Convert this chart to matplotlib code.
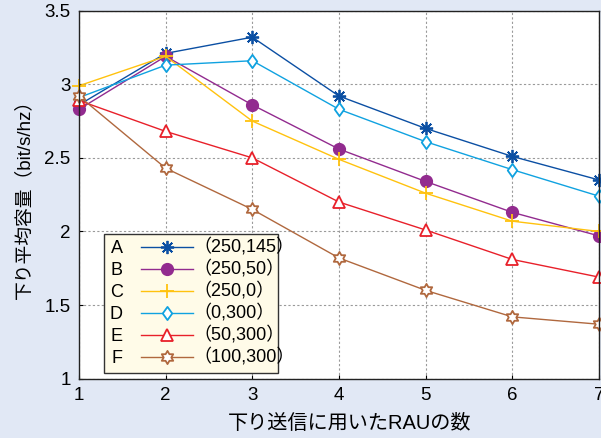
import numpy as np
import matplotlib
matplotlib.use('Agg')
import matplotlib.pyplot as plt
from matplotlib.legend_handler import HandlerLine2D
from matplotlib.path import Path
from matplotlib.text import Text

plt.rcParams['font.family'] = ['Liberation Sans', 'Noto Sans CJK JP']

# Data
rau = [1, 2, 3, 4, 5, 6, 7]
series_names = ['A', 'B', 'C', 'D', 'E', 'F']
series_params = ['（250,145）', '（250,50）', '（250,0）', '（0,300）', '（50,300）', '（100,300）']
cap_a = [2.86, 3.21, 3.32, 2.92, 2.70, 2.51, 2.35]
cap_b = [2.83, 3.19, 2.86, 2.56, 2.34, 2.13, 1.97]
cap_c = [2.99, 3.19, 2.75, 2.49, 2.26, 2.07, 2.00]
cap_d = [2.91, 3.13, 3.16, 2.83, 2.61, 2.42, 2.24]
cap_e = [2.89, 2.68, 2.50, 2.20, 2.01, 1.81, 1.69]
cap_f = [2.92, 2.43, 2.15, 1.82, 1.60, 1.42, 1.37]
series_values = [cap_a, cap_b, cap_c, cap_d, cap_e, cap_f]

# Custom markers: star of David and a tall diamond (closed paths)
ang = np.deg2rad(np.arange(12) * 30 + 90)
rad = np.where(np.arange(12) % 2 == 0, 1.0, 1 / np.sqrt(3))
hex_pts = np.column_stack([rad * np.cos(ang), rad * np.sin(ang)])
hexagram = Path(np.vstack([hex_pts, hex_pts[:1]]), closed=True)
tall_diamond = Path([(0, 1), (0.72, 0), (0, -1), (-0.72, 0), (0, 1)], closed=True)

colors = ['#0b4fa3', '#922b8f', '#ffc20e', '#10a2e0', '#e8202a', '#b0683e']
markers = [(8, 2, 0), 'o', '+', tall_diamond, '^', hexagram]
msizes = [9.5, 8.2, 10.5, 9.5, 9, 9.5]
faces = ['#0b4fa3', '#922b8f', 'none', 'white', 'white', 'white']


class LineWithText(HandlerLine2D):
    """Legend handle: short line + marker, followed by the parameter text."""
    def __init__(self, text, **kw):
        super().__init__(**kw)
        self.text = text

    def create_artists(self, legend, orig_handle, xdescent, ydescent,
                       width, height, fontsize, trans):
        line_w = 2.9 * fontsize
        arts = super().create_artists(legend, orig_handle, xdescent, ydescent,
                                      line_w, height, fontsize, trans)
        t = Text(line_w - xdescent, (height - ydescent) / 2,
                 self.text, fontsize=fontsize, va='center', ha='left',
                 transform=trans)
        return list(arts) + [t]


fig = plt.figure(figsize=(6.01, 4.38), dpi=100)
fig.patch.set_facecolor('#e1e8f5')
ax = fig.add_axes([0.1314, 0.1354, 0.8653, 0.8402])

lines = []
for vals, c, m, ms, fc in zip(series_values, colors, markers, msizes, faces):
    ln, = ax.plot(rau, vals, color=c, lw=1.0, marker=m, markersize=ms,
                  markerfacecolor=fc, markeredgecolor=c, markeredgewidth=1.3,
                  clip_on=False)
    lines.append(ln)

ax.set_xlim(1, 7)
ax.set_ylim(1, 3.5)
ax.set_xticks(rau)
ax.set_xticklabels([str(v) for v in rau])
ax.set_yticks([1, 1.5, 2, 2.5, 3, 3.5])
ax.set_yticklabels(['1', '1.5', '2', '2.5', '3', '3.5'])
ax.tick_params(direction='in', length=3, labelsize=13.5, pad=6)
ax.grid(True, color='#9a9a9a', linestyle=(0, (2, 2)), lw=0.8)
ax.set_axisbelow(True)
for s in ax.spines.values():
    s.set_linewidth(1.0)
    s.set_color('#222222')

ax.set_xlabel('下り送信に用いたRAUの数', fontsize=14.5)
ax.xaxis.set_label_coords(0.521, -0.097)
ax.set_ylabel('下り平均容量（bit/s/hz）', fontsize=13.5, labelpad=8)

hmap = {ln: LineWithText(txt) for ln, txt in zip(lines, series_params)}
leg = ax.legend(lines, series_names, handler_map=hmap, markerfirst=False,
                loc='lower left', bbox_to_anchor=(0.048, 0.0155),
                borderaxespad=0, fontsize=13, handlelength=7.3,
                handletextpad=1.0, labelspacing=0.28, borderpad=0.32,
                fancybox=False, framealpha=1, facecolor='#fffbe8',
                edgecolor='#333333')
leg.get_frame().set_linewidth(1.0)

fig.savefig('out.png', dpi=100, facecolor=fig.get_facecolor())
